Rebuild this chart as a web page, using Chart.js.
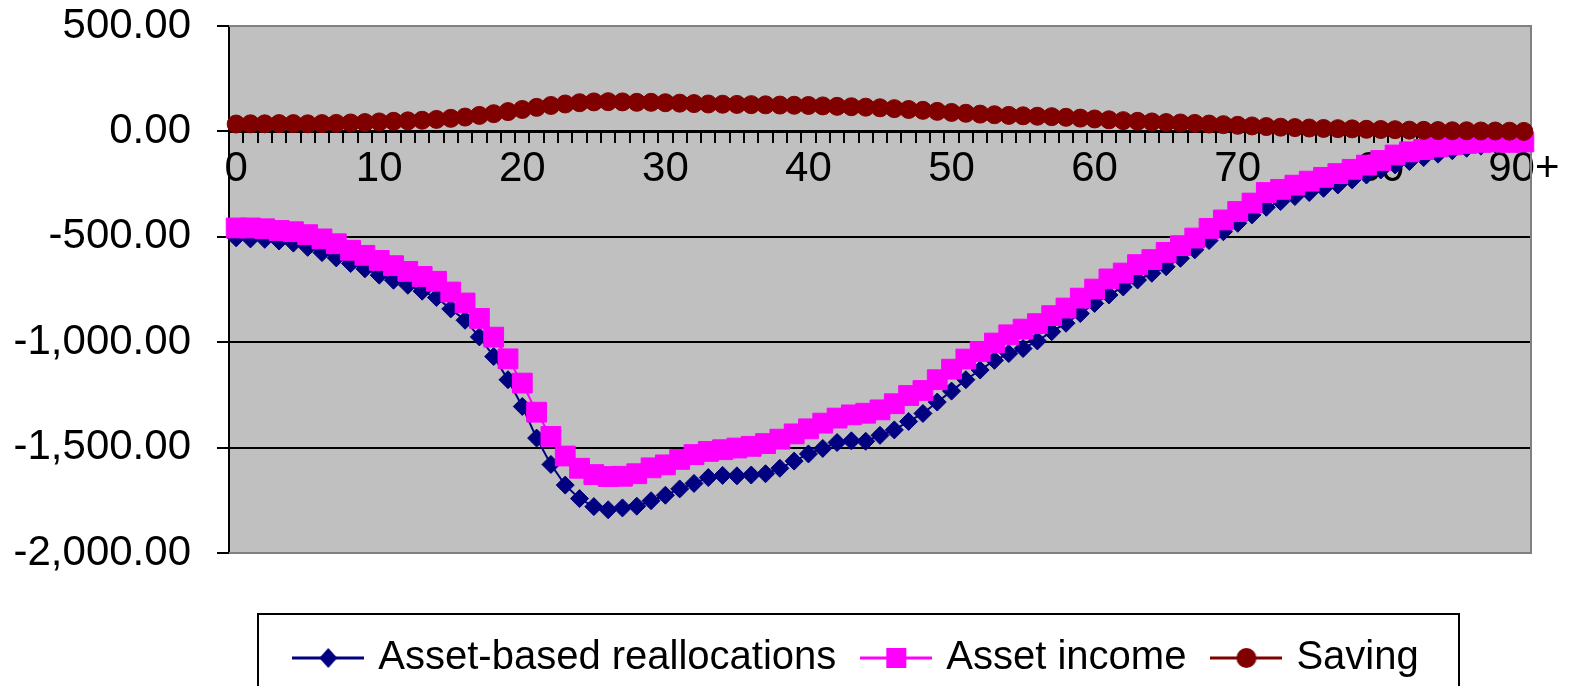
<!DOCTYPE html>
<html>
<head>
<meta charset="utf-8">
<title>Asset-based reallocations by age</title>
<script src="https://cdn.jsdelivr.net/npm/chart.js@4.4.1/dist/chart.umd.min.js"></script>
<style>
  html, body { margin: 0; padding: 0; background: #ffffff; }
  #wrap { width: 1571px; height: 686px; }
</style>
</head>
<body>
<div id="wrap"><canvas id="chart" width="1571" height="686"></canvas></div>
<script>
const ages = [
  "0", "1", "2", "3", "4", "5", "6", "7", "8", "9",
  "10", "11", "12", "13", "14", "15", "16", "17", "18", "19",
  "20", "21", "22", "23", "24", "25", "26", "27", "28", "29",
  "30", "31", "32", "33", "34", "35", "36", "37", "38", "39",
  "40", "41", "42", "43", "44", "45", "46", "47", "48", "49",
  "50", "51", "52", "53", "54", "55", "56", "57", "58", "59",
  "60", "61", "62", "63", "64", "65", "66", "67", "68", "69",
  "70", "71", "72", "73", "74", "75", "76", "77", "78", "79",
  "80", "81", "82", "83", "84", "85", "86", "87", "88", "89", "90+"
];

const assetReallocations = [
  -505, -510, -512, -520, -530, -550, -575, -600, -627, -652,
  -682, -706, -730, -758, -788, -842, -896, -975, -1068, -1178,
  -1305, -1455, -1580, -1678, -1742, -1780, -1795, -1786, -1778, -1752,
  -1726, -1696, -1670, -1642, -1632, -1634, -1630, -1624, -1598, -1564,
  -1530, -1504, -1476, -1468, -1470, -1442, -1416, -1376, -1338, -1284,
  -1232, -1178, -1132, -1086, -1054, -1030, -994, -950, -910, -864,
  -816, -776, -738, -705, -673, -642, -602, -562, -518, -476,
  -436, -396, -360, -333, -309, -290, -270, -254, -230, -207,
  -183, -159, -143, -124, -108, -92, -80, -70, -60, -56, -60
];

const assetIncome = [
  -458, -458, -462, -470, -476, -490, -510, -533, -564, -588,
  -612, -637, -664, -688, -711, -762, -814, -887, -976, -1079,
  -1194, -1332, -1447, -1540, -1598, -1628, -1637, -1636, -1624, -1596,
  -1582, -1556, -1533, -1518, -1510, -1502, -1494, -1481, -1460, -1435,
  -1411, -1384, -1360, -1345, -1337, -1321, -1292, -1253, -1229, -1178,
  -1128, -1080, -1044, -1004, -965, -938, -912, -874, -838, -791,
  -748, -700, -672, -632, -608, -574, -542, -506, -460, -420,
  -380, -340, -290, -275, -255, -236, -218, -200, -180, -160,
  -138, -112, -97, -86, -74, -64, -57, -52, -50, -52, -50
];

const saving = [
  35, 36, 36, 37, 37, 36, 37, 38, 40, 42,
  45, 48, 50, 53, 57, 62, 68, 76, 84, 94,
  104, 114, 123, 130, 136, 140, 141, 140, 138, 138,
  136, 134, 132, 130, 129, 128, 127, 126, 125, 124,
  123, 121, 119, 117, 115, 112, 108, 104, 100, 95,
  90, 86, 82, 79, 76, 74, 72, 70, 67, 63,
  59, 55, 51, 48, 45, 42, 40, 38, 35, 32,
  29, 26, 23, 20, 18, 16, 14, 13, 12, 10,
  9, 8, 6, 5, 4, 3, 3, 2, 2, 1, 0
];

const yTicks = [500, 0, -500, -1000, -1500, -2000];

const FONT = "'Liberation Sans', Arial, sans-serif";

// little line+marker pictures for the legend, like the Excel legend keys
function makeKey(color, shape) {
  const c = document.createElement("canvas");
  c.width = 72;
  c.height = 26;
  const g = c.getContext("2d");
  g.strokeStyle = color;
  g.lineWidth = 3;
  g.beginPath();
  g.moveTo(0, 13);
  g.lineTo(72, 13);
  g.stroke();
  g.fillStyle = color;
  g.beginPath();
  if (shape === "diamond") {
    g.moveTo(36, 3); g.lineTo(45, 13); g.lineTo(36, 23); g.lineTo(27, 13); g.closePath();
  } else if (shape === "square") {
    g.rect(26, 3, 20, 20);
  } else {
    g.arc(36, 13, 10, 0, Math.PI * 2);
  }
  g.fill();
  return c;
}

const keys = [
  makeKey("#000080", "diamond"),
  makeKey("#FF00FF", "square"),
  makeKey("#800000", "circle"),
];

const plotFrame = {
  id: "plotFrame",
  beforeDraw(chart) {
    const { ctx, chartArea: a } = chart;
    ctx.save();
    ctx.fillStyle = "#C0C0C0";
    ctx.fillRect(a.left, a.top, a.right - a.left, a.bottom - a.top);
    ctx.restore();

    // put the legend under the plot the way Excel had it
    const lg = chart.legend;
    lg.left = 258;
    lg.right = 1459;
    lg.width = 1201;
  },
  beforeDatasetsDraw(chart) {
    const { ctx, chartArea: a } = chart;
    ctx.save();
    ctx.strokeStyle = "#808080";
    ctx.lineWidth = 2;
    ctx.beginPath();
    ctx.moveTo(a.left, a.top);
    ctx.lineTo(a.right, a.top);
    ctx.lineTo(a.right, a.bottom);
    ctx.lineTo(a.left, a.bottom);
    ctx.stroke();
    ctx.restore();
  },
  afterDraw(chart) {
    const ctx = chart.ctx;
    ctx.save();
    ctx.strokeStyle = "#000";
    ctx.lineWidth = 2;
    ctx.strokeRect(258, 614, 1201, 120);
    ctx.restore();
  },
};

const ctx = document.getElementById("chart").getContext("2d");
new Chart(ctx, {
  type: "line",
  data: {
    labels: ages,
    datasets: [
      {
        label: "Asset-based reallocations",
        data: assetReallocations,
        borderColor: "#000080",
        backgroundColor: "#000080",
        borderWidth: 2,
        pointStyle: "rectRot",
        pointRadius: 9,
        pointBorderWidth: 1,
        order: 3,
      },
      {
        label: "Asset income",
        data: assetIncome,
        borderColor: "#FF00FF",
        backgroundColor: "#FF00FF",
        borderWidth: 2,
        pointStyle: "rect",
        pointRadius: 14,
        pointBorderWidth: 1,
        order: 2,
      },
      {
        label: "Saving",
        data: saving,
        borderColor: "#800000",
        backgroundColor: "#800000",
        borderWidth: 2,
        pointStyle: "circle",
        pointRadius: 9,
        pointBorderWidth: 1,
        order: 1,
      },
    ],
  },
  options: {
    responsive: false,
    animation: false,
    layout: { padding: { top: 26, right: 40, bottom: -2, left: 0 } },
    elements: { line: { tension: 0 } },
    plugins: {
      tooltip: { enabled: false },
      legend: {
        position: "bottom",
        title: {
          display: true,
          text: "",
          font: { size: 1, lineHeight: 1 },
          padding: { top: 0, bottom: 54 },
        },
        labels: {
          usePointStyle: true,
          pointStyleWidth: 60,
          boxHeight: 24,
          padding: 30,
          color: "#000",
          font: { family: FONT, size: 40 },
          generateLabels(chart) {
            const items = Chart.defaults.plugins.legend.labels.generateLabels(chart);
            items.sort((a, b) => a.datasetIndex - b.datasetIndex);
            return items.map((it) => ({ ...it, pointStyle: keys[it.datasetIndex] }));
          },
        },
      },
    },
    scales: {
      x: {
        type: "category",
        position: { y: 0 },
        offset: true,
        grid: {
          offset: true,
          drawOnChartArea: false,
          drawTicks: true,
          tickLength: 10,
          color: "#000",
          lineWidth: 2,
        },
        border: { display: true, color: "#000", width: 3 },
        ticks: {
          autoSkip: false,
          maxRotation: 0,
          minRotation: 0,
          padding: 3,
          color: "#000",
          font: { family: FONT, size: 42 },
          callback: function (value, index) {
            return index % 10 === 0 ? ages[index] : "";
          },
        },
      },
      y: {
        min: -2000,
        max: 500,
        afterFit: (scale) => {
          scale.width = 229;
          // labels may stick out above/below, the layout padding handles it
          scale.paddingTop = 0;
          scale.paddingBottom = 0;
        },
        afterBuildTicks: (scale) => {
          scale.ticks = yTicks.map((v) => ({ value: v }));
        },
        grid: {
          color: (c) =>
            c.tick && (c.tick.value === 500 || c.tick.value === -2000) ? "rgba(0,0,0,0)" : "#000",
          tickColor: "#000",
          lineWidth: 2,
          tickLength: 12,
        },
        border: { display: true, color: "#000", width: 2 },
        ticks: {
          padding: 26,
          color: "#000",
          font: { family: FONT, size: 42 },
          callback: (v) =>
            Number(v).toLocaleString("en-US", { minimumFractionDigits: 2, maximumFractionDigits: 2 }),
        },
      },
    },
  },
  plugins: [plotFrame],
});
</script>
</body>
</html>
